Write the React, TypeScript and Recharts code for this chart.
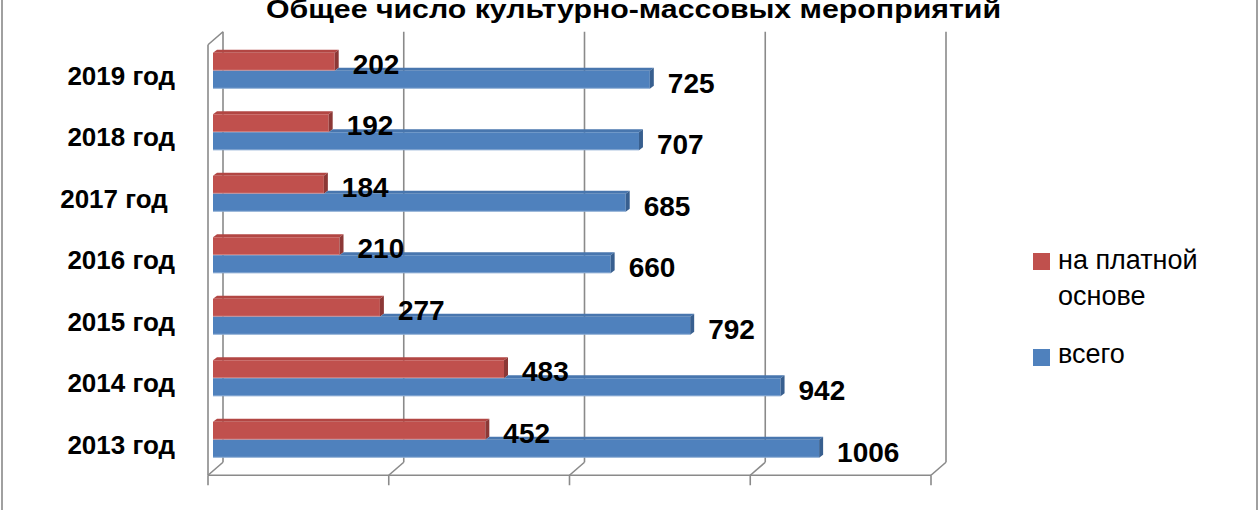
import React from 'react';
import { BarChart, Bar, XAxis, YAxis, CartesianGrid, Legend, LabelList } from 'recharts';

const years = ['2013 год', '2014 год', '2015 год', '2016 год', '2017 год\u00a0', '2018 год', '2019 год'];
const paid = [452, 483, 277, 210, 184, 192, 202];
const total = [1006, 942, 792, 660, 685, 707, 725];
const xTicks = [0, 300, 600, 900, 1200];

const seriesNames = { paid: 'на платной основе', total: 'всего' };
const legendOrder = ['paid', 'total'];

const data = years.map((year, i) => ({ year, paid: paid[i], total: total[i] }));

const FONT = '"Liberation Sans", Arial, sans-serif';
const GRID = '#8a8a8a';

// 3D-looking horizontal box: front face, top face and right side face
const Box3D = (props: any) => {
  const { x, y, width, height, front, topFace, sideFace, topFrom = 0 } = props;
  if (width == null || height == null) return null;
  const dx = 4;
  const dy = 3;
  const tx = x + topFrom;
  return (
    <g>
      {tx < x + width && (
        <polygon
          points={`${tx},${y} ${tx + dx},${y - dy} ${x + width + dx},${y - dy} ${x + width},${y}`}
          fill={topFace}
        />
      )}
      <rect x={x} y={y} width={width} height={height} fill={front} />
      <line x1={x} y1={y + height - 0.5} x2={x + width} y2={y + height - 0.5} stroke="#ffffff" strokeOpacity={0.35} />
      <polygon
        points={`${x + width},${y} ${x + width + dx},${y - dy} ${x + width + dx},${y + height - dy} ${x + width},${y + height}`}
        fill={sideFace}
      />
    </g>
  );
};

const PaidShape = (props: any) => (
  <Box3D {...props} front="#C0504D" topFace="#B24643" sideFace="#8C3836" />
);

// the blue top face only shows to the right of the red box in front of it
const TotalShape = (props: any) => {
  const p = props.payload || {};
  const redW = p.total ? (props.width * p.paid) / p.total : 0;
  return <Box3D {...props} front="#4F81BD" topFace="#4876AE" sideFace="#385F8F" topFrom={redW} />;
};

const gridLine = (props: any) => {
  const { x1, index } = props;
  const top = props.y ?? 39.75;
  const h = props.height ?? 430.5;
  const left = props.x ?? 213;
  const w = props.width ?? 723;
  const back = x1 + 10;
  const front = x1 - 5;
  const backTop = top - 8;
  const backBottom = top + h - 8;
  const frontBottom = top + h + 5;
  const s = { stroke: GRID, strokeWidth: 1.6 };
  return (
    <g key={`grid-${index}`}>
      <line x1={back} y1={backTop} x2={back} y2={backBottom} {...s} />
      <line x1={back} y1={backBottom} x2={front} y2={frontBottom} {...s} />
      <line x1={front} y1={frontBottom} x2={front} y2={frontBottom + 10} {...s} />
      {index === 0 && (
        <g>
          <line x1={front} y1={top + 5} x2={front} y2={frontBottom} {...s} />
          <line x1={front} y1={top + 5} x2={back} y2={backTop} {...s} />
          <line x1={front} y1={frontBottom} x2={left + w - 5} y2={frontBottom} {...s} />
        </g>
      )}
    </g>
  );
};

const YTick = (props: any) => {
  const { x, y, payload } = props;
  return (
    <text x={x} y={y + 5} dy="0.355em" textAnchor="end" fontFamily={FONT} fontWeight="bold" fontSize={26} fill="#000">
      {payload.value}
    </text>
  );
};

const makeLabel = (shift: number) => (props: any) => {
  const vb = props.viewBox || props;
  const { x, y, width, height } = vb;
  return (
    <text
      x={x + width + 18}
      y={y + height / 2 + shift}
      dy="0.355em"
      textAnchor="start"
      fontFamily={FONT}
      fontWeight="bold"
      fontSize={28}
      fill="#000"
    >
      {props.value}
    </text>
  );
};

const renderLegend = (props: any) => {
  const items = [...(props.payload || [])].sort(
    (a: any, b: any) => legendOrder.indexOf(a.dataKey) - legendOrder.indexOf(b.dataKey)
  );
  return (
    <div style={{ fontFamily: FONT, fontSize: 27, lineHeight: '36px', color: '#000', width: 215 }}>
      {items.map((entry: any, i: number) => (
        <div key={entry.value} style={{ display: 'flex', alignItems: 'flex-start', marginBottom: i === 0 ? 22 : 0 }}>
          <div
            style={{
              width: 17,
              height: 17,
              background: entry.color,
              marginTop: i === 0 ? 11 : 13,
              marginRight: 8,
              flex: 'none',
            }}
          />
          <div style={{ width: 170 }}>{entry.value}</div>
        </div>
      ))}
    </div>
  );
};

export default function App() {
  return (
    <div style={{ position: 'absolute', left: 0, top: 0, width: 1260, height: 510, overflow: 'hidden', background: '#fff' }}>
      <div
        style={{
          position: 'absolute',
          left: 1,
          top: -20,
          width: 1253,
          height: 600,
          borderLeft: '2px solid #a0a0a0',
          borderRight: '2px solid #a0a0a0',
        }}
      />
      <svg width={1260} height={40} style={{ position: 'absolute', left: 0, top: 0 }}>
        <text
          x={633.5}
          y={18}
          textAnchor="middle"
          fontFamily={FONT}
          fontWeight="bold"
          fontSize={26}
          textLength={735}
          lengthAdjust="spacingAndGlyphs"
          fill="#000"
        >
          Общее число культурно-массовых мероприятий
        </text>
      </svg>
      <div style={{ position: 'absolute', left: 0, top: 0 }}>
        <BarChart
          width={1260}
          height={510}
          layout="vertical"
          data={data}
          margin={{ top: 39.75, right: 324, bottom: 39.75, left: 0 }}
          barCategoryGap={13}
          barGap={0}
        >
          <CartesianGrid horizontal={false} vertical={gridLine} stroke={GRID} />
          <XAxis type="number" domain={[0, 1200]} ticks={xTicks} hide />
          <YAxis
            type="category"
            dataKey="year"
            reversed
            width={213}
            axisLine={false}
            tickLine={false}
            tickSize={0}
            tickMargin={38}
            tick={<YTick />}
            interval={0}
          />
          <Legend
            layout="horizontal"
            verticalAlign="middle"
            align="center"
            content={renderLegend}
            wrapperStyle={{ position: 'absolute', left: 1033, top: 242, width: 220 }}
          />
          <Bar dataKey="paid" name={seriesNames.paid} fill="#C0504D" shape={<PaidShape />} isAnimationActive={false}>
            <LabelList dataKey="paid" content={makeLabel(2)} />
          </Bar>
          <Bar dataKey="total" name={seriesNames.total} fill="#4F81BD" shape={<TotalShape />} isAnimationActive={false}>
            <LabelList dataKey="total" content={makeLabel(3)} />
          </Bar>
        </BarChart>
      </div>
    </div>
  );
}
